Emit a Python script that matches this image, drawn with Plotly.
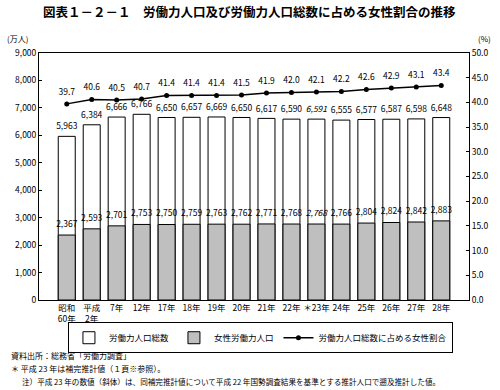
import plotly.graph_objects as go

categories = ["昭和<br>60年", "平成<br>2年", "7年", "12年", "17年", "18年", "19年", "20年",
              "21年", "22年", "＊23年", "24年", "25年", "26年", "27年", "28年"]
total_labor = [5963, 6384, 6666, 6766, 6650, 6657, 6669, 6650, 6617, 6590, 6591, 6555, 6577, 6587, 6598, 6648]
female_labor = [2367, 2593, 2701, 2753, 2750, 2759, 2763, 2762, 2771, 2768, 2768, 2766, 2804, 2824, 2842, 2883]
female_ratio = [39.7, 40.6, 40.5, 40.7, 41.4, 41.4, 41.4, 41.5, 41.9, 42.0, 42.1, 42.2, 42.6, 42.9, 43.1, 43.4]
italic_index = 10  # 平成23年 (補完推計値) shown in italics

FONT = "Noto Sans CJK JP"
GRAY = "#bfbfbf"


def fmt(v, i):
    s = f"{v:,}"
    return f"<i>{s}</i>" if i == italic_index else s


total_text = [fmt(v, i) for i, v in enumerate(total_labor)]
female_text = [fmt(v, i) for i, v in enumerate(female_labor)]
ratio_text = [f"{v:.1f}" for v in female_ratio]

fig = go.Figure()
fig.add_trace(go.Bar(x=categories, y=total_labor, name="労働力人口総数",
                     marker=dict(color="white", line=dict(color="black", width=1)),
                     width=0.68))
fig.add_trace(go.Bar(x=categories, y=female_labor, name="女性労働力人口",
                     marker=dict(color=GRAY, line=dict(color="black", width=1)),
                     width=0.68))
fig.add_trace(go.Scatter(x=categories, y=female_ratio, yaxis="y2", name="労働力人口総数に占める女性割合",
                         mode="lines+markers", line=dict(color="black", width=1.5),
                         marker=dict(color="black", size=5)))
# value labels
lab_font = dict(size=8.5, color="black", family=FONT)
invisible = dict(size=6, color="rgba(0,0,0,0)")
fig.add_trace(go.Scatter(x=categories, y=total_labor, mode="markers+text", text=total_text,
                         marker=invisible, textposition="top center", textfont=lab_font,
                         showlegend=False, hoverinfo="skip", cliponaxis=False))
fig.add_trace(go.Scatter(x=categories, y=female_labor, mode="markers+text", text=female_text,
                         marker=dict(size=8, color="rgba(0,0,0,0)"),
                         textposition="top center", textfont=lab_font,
                         showlegend=False, hoverinfo="skip", cliponaxis=False))
fig.add_trace(go.Scatter(x=categories, y=female_ratio, yaxis="y2", mode="markers+text", text=ratio_text,
                         marker=dict(size=10, color="rgba(0,0,0,0)"),
                         textposition="top center", textfont=lab_font,
                         showlegend=False, hoverinfo="skip", cliponaxis=False))

small = dict(size=8, family=FONT, color="black")
fig.update_layout(
    width=500, height=390,
    margin=dict(l=39, r=29, t=53, b=90),
    paper_bgcolor="white", plot_bgcolor="white",
    font=dict(family=FONT, size=9, color="black"),
    barmode="overlay",
    showlegend=True,
    legend=dict(orientation="h", x=0.515, xanchor="center", y=-0.09, yanchor="top",
                bordercolor="black", borderwidth=1, font=dict(size=8.5, family=FONT),
                itemwidth=30, tracegroupgap=0),
    xaxis=dict(showline=True, linecolor="black", linewidth=1, mirror=True,
               ticks="", tickfont=dict(size=8.5, family=FONT), showgrid=False),
    yaxis=dict(range=[0, 9000], dtick=1000, tickformat=",", showline=True, linecolor="black",
               linewidth=1, ticks="inside", ticklen=3, tickcolor="black", showgrid=False,
               zeroline=False, tickfont=dict(size=8.5, family=FONT)),
    yaxis2=dict(range=[0, 50], dtick=5, tickformat=".1f", overlaying="y", side="right",
                showline=True, linecolor="black", linewidth=1, ticks="inside", ticklen=3,
                tickcolor="black", showgrid=False, zeroline=False,
                tickfont=dict(size=8.5, family=FONT)),
    annotations=[
        dict(text="<b>図表１－２－１　労働力人口及び労働力人口総数に占める女性割合の推移</b>",
             x=0.49, y=1.17, xref="paper", yref="paper", showarrow=False,
             xanchor="center", yanchor="middle", font=dict(size=12.5, family=FONT)),
        dict(text="(万人)", x=-0.05, y=1.03, xref="paper", yref="paper", showarrow=False,
             xanchor="center", yanchor="bottom", font=small),
        dict(text="(%)", x=1.035, y=1.03, xref="paper", yref="paper", showarrow=False,
             xanchor="center", yanchor="bottom", font=small),
        dict(text="資料出所：総務省「労働力調査」", x=-0.07, y=-0.225, xref="paper", yref="paper",
             showarrow=False, xanchor="left", yanchor="middle", font=small),
        dict(text="＊ 平成 23 年は補完推計値（１頁※参照）。", x=-0.07, y=-0.278, xref="paper", yref="paper",
             showarrow=False, xanchor="left", yanchor="middle", font=small),
        dict(text="注）平成 23 年の数値（斜体）は、同補完推計値について平成 22 年国勢調査結果を基準とする推計人口で遡及推計した値。",
             x=-0.045, y=-0.33, xref="paper", yref="paper",
             showarrow=False, xanchor="left", yanchor="middle", font=dict(size=7.6, family=FONT, color="black")),
    ],
)

fig.write_html("out.html", config={"displayModeBar": False},
               post_script="document.body.style.margin='0';document.body.style.padding='0';")
